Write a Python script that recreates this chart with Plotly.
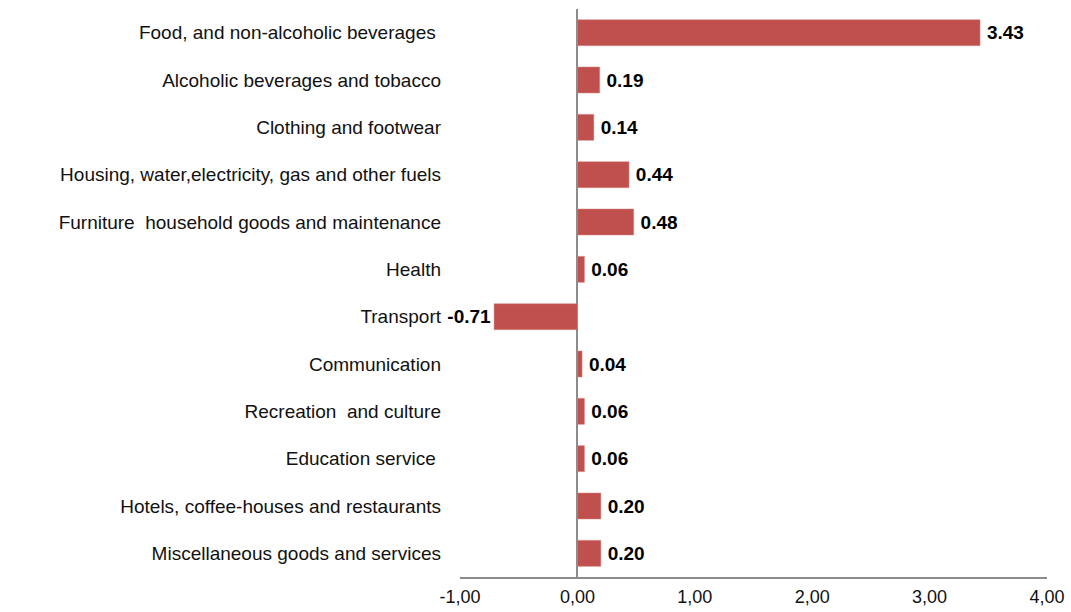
import plotly.graph_objects as go

categories = [
    "Food, and non-alcoholic beverages ",
    "Alcoholic beverages and tobacco",
    "Clothing and footwear",
    "Housing, water,electricity, gas and other fuels",
    "Furniture  household goods and maintenance",
    "Health",
    "Transport",
    "Communication",
    "Recreation  and culture",
    "Education service ",
    "Hotels, coffee-houses and restaurants",
    "Miscellaneous goods and services",
]
values = [3.43, 0.19, 0.14, 0.44, 0.48, 0.06, -0.71, 0.04, 0.06, 0.06, 0.20, 0.20]
tick_vals = [-1, 0, 1, 2, 3, 4]
tick_labels = ["-1,00", "0,00", "1,00", "2,00", "3,00", "4,00"]

labels = [("\u2009" + f"{v:.2f}") if v >= 0 else f"{v:.2f}" for v in values]

fig = go.Figure(go.Bar(
    x=values,
    y=categories,
    orientation="h",
    marker=dict(color="#C0504D", line=dict(color="#D98A88", width=0.5)),
    text=labels,
    textposition="outside",
    textfont=dict(family="Liberation Sans, Arial, sans-serif", size=19, color="#000000", weight="bold"),
    cliponaxis=False,
))

fig.update_layout(
    width=1071,
    height=612,
    margin=dict(l=460, r=24, t=9, b=35, autoexpand=False),
    paper_bgcolor="white",
    plot_bgcolor="white",
    showlegend=False,
    bargap=0.45,
    font=dict(family="Liberation Sans, Arial, sans-serif", size=19, color="#111111"),
)

fig.update_xaxes(
    range=[-1, 4],
    tickvals=tick_vals,
    ticktext=tick_labels,
    showgrid=False,
    zeroline=True,
    zerolinecolor="#8C8C8C",
    zerolinewidth=2,
    showline=True,
    linecolor="#8C8C8C",
    linewidth=1.5,
    ticks="",
    ticklabelstandoff=3,
    automargin=False,
    tickfont=dict(size=18, color="#111111"),
)

fig.update_yaxes(
    autorange="reversed",
    showgrid=False,
    showline=False,
    ticks="",
    ticklabelstandoff=18,
    automargin=False,
    tickfont=dict(size=19, color="#111111"),
)

fig.write_html(
    "out.html",
    config={"displayModeBar": False},
    post_script="document.body.style.margin='0';document.body.style.overflow='hidden';",
)
